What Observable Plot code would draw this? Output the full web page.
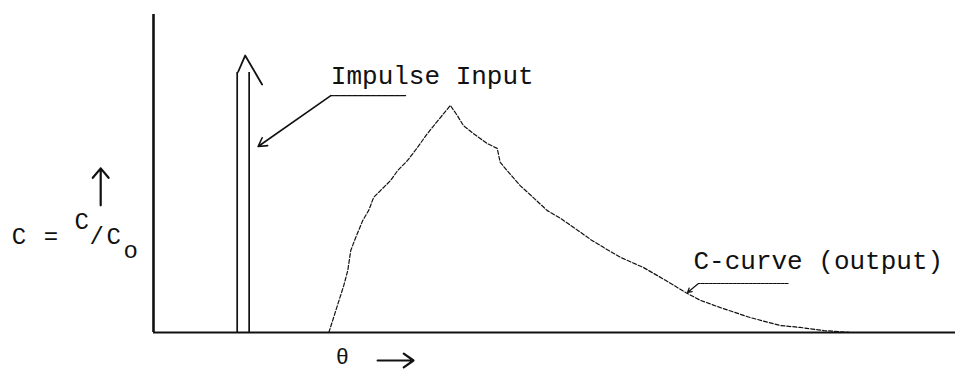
<!DOCTYPE html>
<html>
<head>
<meta charset="utf-8">
<script src="https://cdn.jsdelivr.net/npm/d3@7"></script>
<script src="https://cdn.jsdelivr.net/npm/@observablehq/plot@0.6"></script>
<style>
  html, body { margin: 0; padding: 0; background: #fff; }
  #chart svg { display: block; }
</style>
</head>
<body>
<div id="chart"></div>
<script>
// C-curve (output): theta (dimensionless time) and C = C/Co
const curveTheta = [1.76, 1.91, 1.95, 1.98, 2.03, 2.10, 2.16, 2.21, 2.38, 2.45, 2.55, 2.65, 2.75, 2.88, 2.98,
  3.05, 3.11, 3.21, 3.35, 3.45, 3.48, 3.55, 3.68, 3.81, 3.95, 4.09, 4.26, 4.39, 4.52, 4.69, 4.92, 5.14, 5.34,
  5.49, 5.72, 5.99, 6.29, 6.49, 6.73, 7.00];
const curveC = [0.000, 0.148, 0.195, 0.258, 0.299, 0.352, 0.384, 0.425, 0.478, 0.509, 0.541, 0.582, 0.626, 0.676, 0.714,
  0.682, 0.651, 0.626, 0.594, 0.579, 0.535, 0.509, 0.462, 0.425, 0.384, 0.358, 0.321, 0.292, 0.267, 0.236, 0.204, 0.164, 0.126,
  0.101, 0.075, 0.047, 0.022, 0.016, 0.006, 0.000];

// Impulse input: two parallel strokes
const impulseTheta = [0.84, 0.96];
const impulseTop = [0.818, 0.818];

// Text labels
const impulseLabel = "Impulse Input";
const outputLabel = "C-curve (output)";
const xLabel = "θ";
const yLabelParts = ["C", "=", "C", "/", "C", "o"];

const curve = curveTheta.map((t, i) => ({theta: t, c: curveC[i]}));
const impulses = impulseTheta.map((t, i) => ({theta: t, top: impulseTop[i]}));
const arrowHead = [{theta: 0.85, c: 0.82}, {theta: 0.92, c: 0.871}, {theta: 1.09, c: 0.78}];

const font = "'Liberation Mono', 'DejaVu Sans Mono', monospace";

const yParts = [
  {t: yLabelParts[0], x: -1.35, y: 0.277},
  {t: yLabelParts[1], x: -1.03, y: 0.277},
  {t: yLabelParts[2], x: -0.72, y: 0.327},
  {t: yLabelParts[3], x: -0.57, y: 0.277},
  {t: yLabelParts[4], x: -0.40, y: 0.277},
  {t: yLabelParts[5], x: -0.23, y: 0.233}
];

const chart = Plot.plot({
  width: 956,
  height: 374,
  marginLeft: 153,
  marginRight: 1,
  marginTop: 14,
  marginBottom: 42,
  x: {domain: [0, 8.05], axis: null},
  y: {domain: [0, 1], axis: null},
  style: {background: "#fff", color: "#111", fontFamily: font},
  marks: [
    // axes
    Plot.ruleX([0], {y1: 0, y2: 1, stroke: "#111", strokeWidth: 2.6}),
    Plot.ruleY([0], {stroke: "#111", strokeWidth: 2.2}),
    // impulse input
    Plot.ruleX(impulses, {x: "theta", y1: 0, y2: "top", stroke: "#111", strokeWidth: 1.7}),
    Plot.line(arrowHead, {x: "theta", y: "c", stroke: "#111", strokeWidth: 1.8}),
    // C-curve
    Plot.line(curve, {x: "theta", y: "c", stroke: "#111", strokeWidth: 1.2, strokeDasharray: "4,2"}),
    // Impulse Input label + leader
    Plot.text([impulseLabel], {x: 1.78, y: 0.783, text: d => d, textAnchor: "start", lineAnchor: "bottom",
      fontSize: 26, fill: "#111"}),
    Plot.line([{theta: 2.53, c: 0.745}, {theta: 1.78, c: 0.745}], {x: "theta", y: "c", stroke: "#111", strokeWidth: 1.4, strokeDasharray: "5,1"}),
    Plot.arrow([{x1: 1.78, y1: 0.745, x2: 1.05, y2: 0.585}], {x1: "x1", y1: "y1", x2: "x2", y2: "y2",
      stroke: "#111", strokeWidth: 1.6, headLength: 9}),
    // C-curve label + leader
    Plot.text([outputLabel], {x: 5.42, y: 0.201, text: d => d, textAnchor: "start", lineAnchor: "bottom",
      fontSize: 26, fill: "#111"}),
    Plot.line([{theta: 6.37, c: 0.154}, {theta: 5.47, c: 0.154}], {x: "theta", y: "c", stroke: "#111", strokeWidth: 1.1, strokeDasharray: "3,1"}),
    Plot.arrow([{x1: 5.47, y1: 0.154, x2: 5.36, y2: 0.126}], {x1: "x1", y1: "y1", x2: "x2", y2: "y2",
      stroke: "#111", strokeWidth: 1.2, headLength: 6}),
    // x label theta + arrow
    Plot.text([xLabel], {x: 1.83, y: -0.076, text: d => d, textAnchor: "start", lineAnchor: "middle",
      fontSize: 22, fill: "#111"}),
    Plot.arrow([{x1: 2.25, y1: -0.088, x2: 2.61, y2: -0.088}], {x1: "x1", y1: "y1", x2: "x2", y2: "y2",
      stroke: "#111", strokeWidth: 2.2, headLength: 12, headAngle: 70}),
    // y label C = C/Co with arrow
    Plot.arrow([{x1: -0.53, y1: 0.40, x2: -0.53, y2: 0.516}], {x1: "x1", y1: "y1", x2: "x2", y2: "y2",
      stroke: "#111", strokeWidth: 2.2, headLength: 12, headAngle: 80}),
    Plot.text(yParts, {x: "x", y: "y", text: "t", fontSize: 24, textAnchor: "middle", lineAnchor: "bottom", fill: "#111"})
  ]
});
document.getElementById("chart").appendChild(chart);
</script>
</body>
</html>
